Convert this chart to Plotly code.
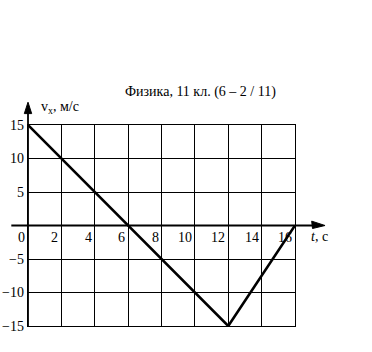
import plotly.graph_objects as go

# velocity–time graph data
t_points = [0, 12, 16]
v_points = [15, -15, 0]

x_ticks = [0, 2, 4, 6, 8, 10, 12, 14, 16]
x_tick_labels = ["0", "2", "4", "6", "8", "10", "12", "14", "16"]
y_ticks = [15, 10, 5, -5, -10, -15]
y_tick_labels = ["15", "10", "5", "−5", "−10", "−15"]

title_text = "Физика, 11 кл. (6 – 2 / 11)"
serif = "Liberation Serif, Times New Roman, serif"

X_RANGE = [0, 16]
Y_RANGE = [-15, 15]


def px(t):
    """time value -> paper x"""
    return (t - X_RANGE[0]) / (X_RANGE[1] - X_RANGE[0])


def py(v):
    """velocity value -> paper y"""
    return (v - Y_RANGE[0]) / (Y_RANGE[1] - Y_RANGE[0])


def tri(points):
    """closed filled path through (t, v) points, in paper units"""
    pts = [f"{px(t):.4f},{py(v):.4f}" for t, v in points]
    return "M " + " L ".join(pts) + " Z"


fig = go.Figure()
fig.add_trace(go.Scatter(
    x=t_points, y=v_points, mode="lines",
    line=dict(color="black", width=2.6),
    hoverinfo="skip", showlegend=False,
))

axis_common = dict(
    showgrid=True, gridcolor="black", gridwidth=1.4,
    showline=True, linecolor="black", linewidth=1.4, mirror=True,
    zeroline=False, showticklabels=False, ticks="",
)
fig.update_xaxes(range=X_RANGE, tick0=0, dtick=2, **axis_common)
fig.update_yaxes(range=Y_RANGE, tick0=0, dtick=5, **axis_common)

# coordinate axes extending past the grid
fig.add_shape(type="line", xref="paper", yref="paper",
              x0=px(-1.0), x1=px(17.2), y0=py(0), y1=py(0),
              line=dict(color="black", width=1.8))
fig.add_shape(type="line", xref="paper", yref="paper",
              x0=px(0), x1=px(0), y0=py(-15), y1=py(17.5),
              line=dict(color="black", width=1.8))

# arrowheads at the axis ends
fig.add_shape(type="path", xref="paper", yref="paper",
              path=tri([(17.8, 0), (17.0, 0.65), (17.05, -0.45)]),
              fillcolor="black", line=dict(color="black", width=1))
fig.add_shape(type="path", xref="paper", yref="paper",
              path=tri([(0, 18.4), (-0.22, 16.7), (0.22, 16.7)]),
              fillcolor="black", line=dict(color="black", width=1))

# tick labels
for xv, lab in zip(x_ticks, x_tick_labels):
    fig.add_annotation(x=px(xv), y=py(0), xref="paper", yref="paper", text=lab,
                       showarrow=False, xanchor="right", yanchor="top",
                       xshift=-1, yshift=-2,
                       font=dict(family=serif, size=14, color="black"))
for yv, lab in zip(y_ticks, y_tick_labels):
    fig.add_annotation(x=px(0), y=py(yv), xref="paper", yref="paper", text=lab,
                       showarrow=False, xanchor="right", yanchor="middle",
                       xshift=-2,
                       font=dict(family=serif, size=14, color="black"))

# axis names
fig.add_annotation(x=px(0), y=py(17.6), xref="paper", yref="paper",
                   text="v<sub>x</sub>, м/с", showarrow=False,
                   xanchor="left", yanchor="middle", xshift=11,
                   font=dict(family=serif, size=14, color="black"))
fig.add_annotation(x=px(16), y=py(0), xref="paper", yref="paper",
                   text="<i>t</i>, с", showarrow=False,
                   xanchor="left", yanchor="top", xshift=14, yshift=-1,
                   font=dict(family=serif, size=14, color="black"))

fig.add_annotation(x=(200 - 28) / 267, y=(326 - 92) / 201,
                   xref="paper", yref="paper", text=title_text,
                   showarrow=False, xanchor="center", yanchor="middle",
                   font=dict(family=serif, size=14, color="black"))

fig.update_layout(
    width=372, height=352,
    margin=dict(l=28, r=77, t=125, b=26),
    paper_bgcolor="white", plot_bgcolor="white",
)

fig.write_html("out.html")
